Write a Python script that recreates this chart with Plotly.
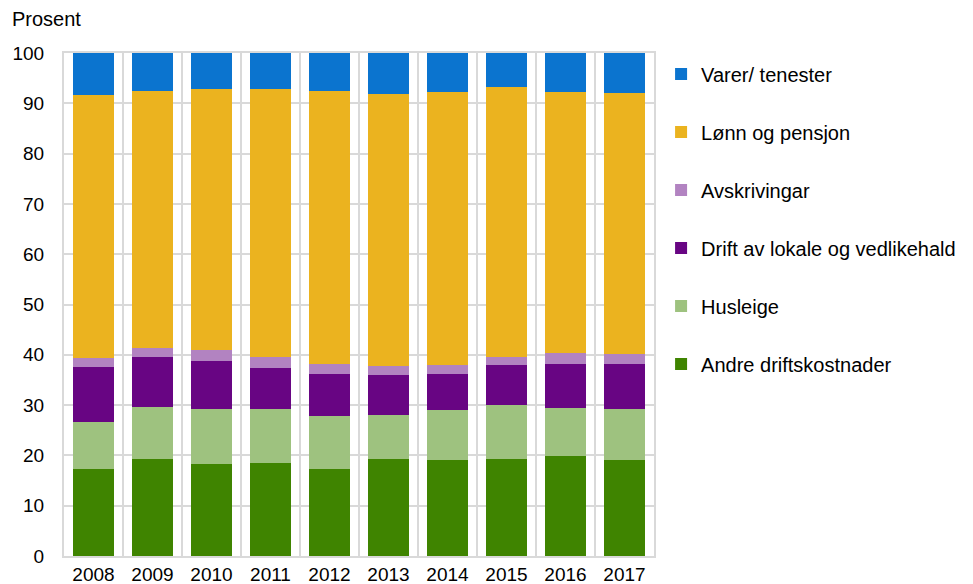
import plotly.graph_objects as go

years = ["2008", "2009", "2010", "2011", "2012", "2013", "2014", "2015", "2016", "2017"]
andre = [17.2, 19.2, 18.2, 18.4, 17.3, 19.2, 19.0, 19.2, 19.8, 19.1]
husleige = [9.4, 10.5, 11.0, 10.8, 10.6, 8.9, 10.1, 10.9, 9.6, 10.1]
drift = [11.0, 9.8, 9.6, 8.1, 8.3, 7.9, 7.1, 7.8, 8.8, 8.9]
avskr = [1.8, 1.8, 2.2, 2.3, 2.0, 1.7, 1.7, 1.7, 2.1, 2.1]
lonn = [52.2, 51.2, 51.9, 53.2, 54.3, 54.2, 54.4, 53.6, 51.9, 51.9]
varer = [8.4, 7.5, 7.1, 7.2, 7.5, 8.1, 7.7, 6.8, 7.8, 7.9]

series = [
    ("Andre driftskostnader", andre, "#3F8400"),
    ("Husleige", husleige, "#9EC27F"),
    ("Drift av lokale og vedlikehald", drift, "#680583"),
    ("Avskrivingar", avskr, "#B283C1"),
    ("Lønn og pensjon", lonn, "#EBB31F"),
    ("Varer/ tenester", varer, "#0B74CF"),
]

xpos = list(range(len(years)))
fig = go.Figure()
for i, (name, vals, col) in enumerate(series):
    fig.add_trace(go.Bar(x=xpos, y=vals, name=name, legendgroup=name,
                         legendrank=1000 - i,
                         marker=dict(color=col, line=dict(width=0))))

font = "Liberation Sans, Arial, sans-serif"
fig.update_layout(
    barmode="stack",
    bargap=0.32,
    width=973, height=584,
    margin=dict(l=64, r=309, t=53, b=28),
    plot_bgcolor="white", paper_bgcolor="white",
    font=dict(family=font, size=19, color="#000000"),
    legend=dict(traceorder="grouped", tracegroupgap=29,
                x=1.012, xanchor="left", y=0.997, yanchor="top",
                font=dict(size=20), itemwidth=30),
    xaxis=dict(range=[-0.5, 9.5], tickvals=xpos, ticktext=years,
               showgrid=False, zeroline=False, ticks="", automargin=False,
               tickfont=dict(size=19),
               minor=dict(tick0=-0.5, dtick=1, showgrid=True,
                          gridcolor="#d9d9d9", gridwidth=2, ticks=""),
               showline=True, linecolor="#d9d9d9", linewidth=2, mirror=True),
    yaxis=dict(range=[0, 100], dtick=10, showgrid=True, gridcolor="#d9d9d9",
               gridwidth=2, zeroline=False, ticks="", ticklabelstandoff=14,
               tickfont=dict(size=19), automargin=False,
               showline=True, linecolor="#d9d9d9", linewidth=2, mirror=True),
    annotations=[dict(text="Prosent", xref="paper", yref="paper",
                      x=-55/600, y=1 + 34/503, xanchor="left", yanchor="middle",
                      showarrow=False, font=dict(size=20))],
)
fig.write_html("out.html", config={"displayModeBar": False},
               post_script="document.body.style.margin='0';document.body.style.padding='0';")
